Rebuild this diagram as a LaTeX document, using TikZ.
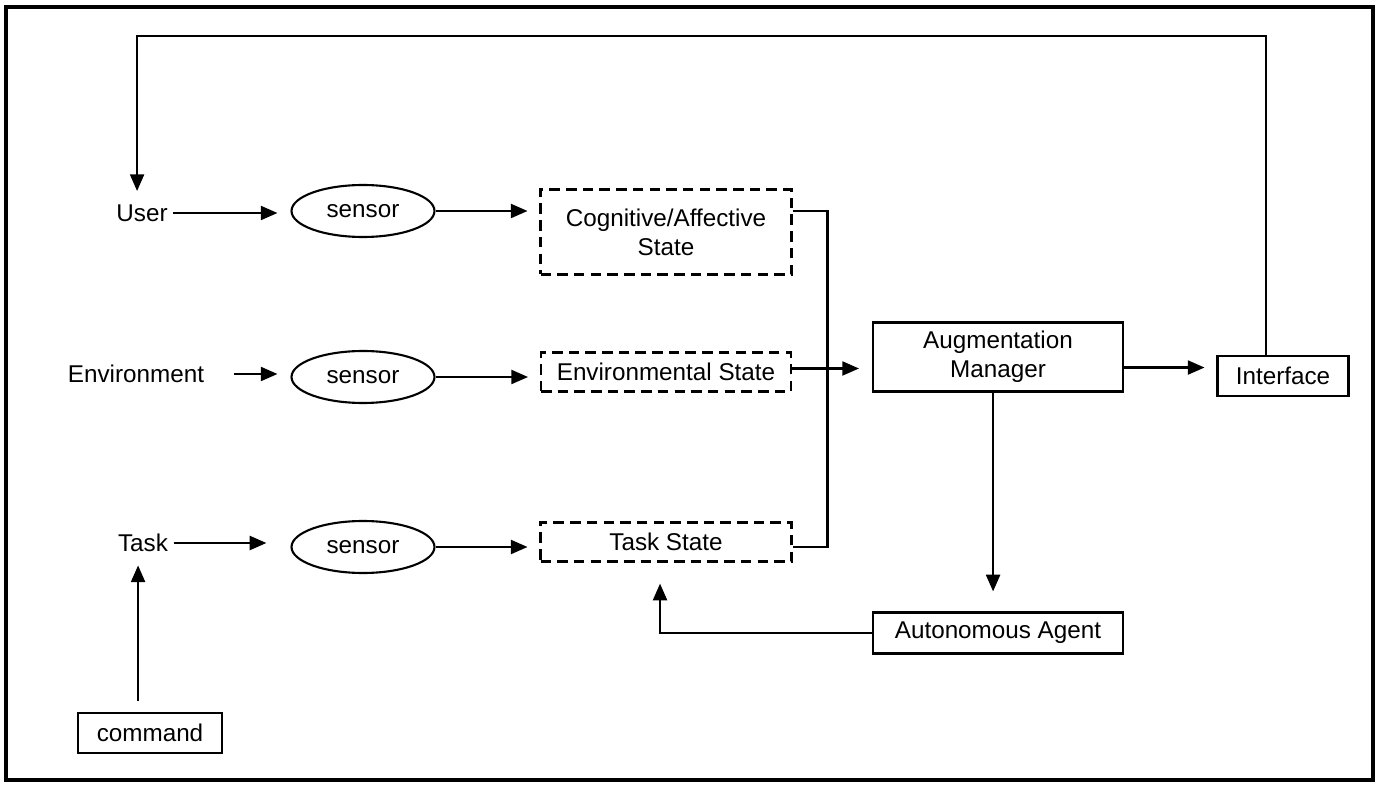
\documentclass[tikz,border=0pt]{standalone}
\usepackage{fontspec}
\setmainfont{Liberation Sans}
\usetikzlibrary{shapes.geometric,arrows.meta,calc}
\tikzset{
  box/.style={draw, line width=1.2pt, align=center, inner sep=0pt},
  statebox/.style={box, dash pattern=on 6pt off 3.5pt},
  sensorshape/.style={draw, ellipse, line width=1.2pt, minimum width=2.86cm, minimum height=1.04cm, inner sep=0pt},
  word/.style={inner xsep=3pt, inner ysep=7.5pt},
  arr/.style={-{Triangle[length=9.5pt,width=8pt]}, line width=1.2pt},
  wire/.style={line width=1.2pt},
}
\begin{document}
\begin{tikzpicture}[x=0.02cm,y=-0.02cm,font=\fontsize{13.8}{16.5}\selectfont]
\useasboundingbox (0,0) rectangle (1380,790);
\draw[line width=2.8pt] (6,7) rectangle (1373,780);

\node[word] (user) at (142,213) {User};
\node[word] (env) at (136,374) {Environment};
\node[word] (task) at (143,543) {Task};
\node[box, minimum width=2.88cm, minimum height=0.8cm] (cmd) at (150,733) {command};

\node[sensorshape] (usens) at (363,211) {sensor};
\node[sensorshape] (esens) at (363,377) {sensor};
\node[sensorshape] (tsens) at (363,547) {sensor};

\node[statebox, minimum width=5.02cm, minimum height=1.7cm] (cog) at (666,232) {Cognitive/Affective\\State};
\node[statebox, minimum width=5.0cm, minimum height=0.78cm] (estate) at (666,372) {Environmental State};
\node[statebox, minimum width=5.02cm, minimum height=0.78cm] (tstate) at (666,542) {Task State};

\node[box, minimum width=5.0cm, minimum height=1.38cm] (am) at (998,357) {Augmentation\\Manager};
\node[box, minimum width=5.0cm, minimum height=0.82cm] (aa) at (998,633) {Autonomous Agent};
\node[box, minimum width=2.62cm, minimum height=0.8cm] (iface) at (1283,376) {Interface};

\draw[arr, shorten >=7.4pt] (user.east) -- (user.east -| usens.west);
\draw[arr, shorten <=13.7pt, shorten >=7.4pt] (env.east) -- (env.east -| esens.west);
\draw[arr, shorten >=13.7pt] (task.east) -- (task.east -| tsens.west);
\draw[arr, shorten <=6.3pt] ([xshift=-2.8pt]cmd.north -| task.south) -- ([xshift=-2.8pt]task.south);

\draw[arr, shorten >=6.8pt] (usens.east) -- (usens.east -| cog.west);
\draw[arr, shorten >=6.8pt] (esens.east) -- (esens.east -| estate.west);
\draw[arr, shorten >=6.8pt] (tsens.east) -- (tsens.east -| tstate.west);

\draw[wire] (cog.east |- usens) -- ++(35,0) |- (tstate.east |- tsens);
\draw[arr, shorten >=7.4pt] ([yshift=2pt]estate.east) -- ([yshift=2pt]estate.east -| am.west);
\draw[arr, shorten >=6.8pt] ([yshift=-6pt]am.east) -- ([yshift=-6pt]am.east -| iface.west);
\draw[arr, shorten >=11.4pt] ([xshift=-2.8pt]am.south) -- ([xshift=-2.8pt]aa.north);
\draw[arr, shorten >=12pt] (aa.west) -| ([xshift=-3.4pt]tstate.south);
\draw[arr] ([xshift=-9.7pt]iface.north) |- ([xshift=-2.8pt]user.north |- 0,36) -- ([xshift=-2.8pt]user.north);
\end{tikzpicture}
\end{document}
